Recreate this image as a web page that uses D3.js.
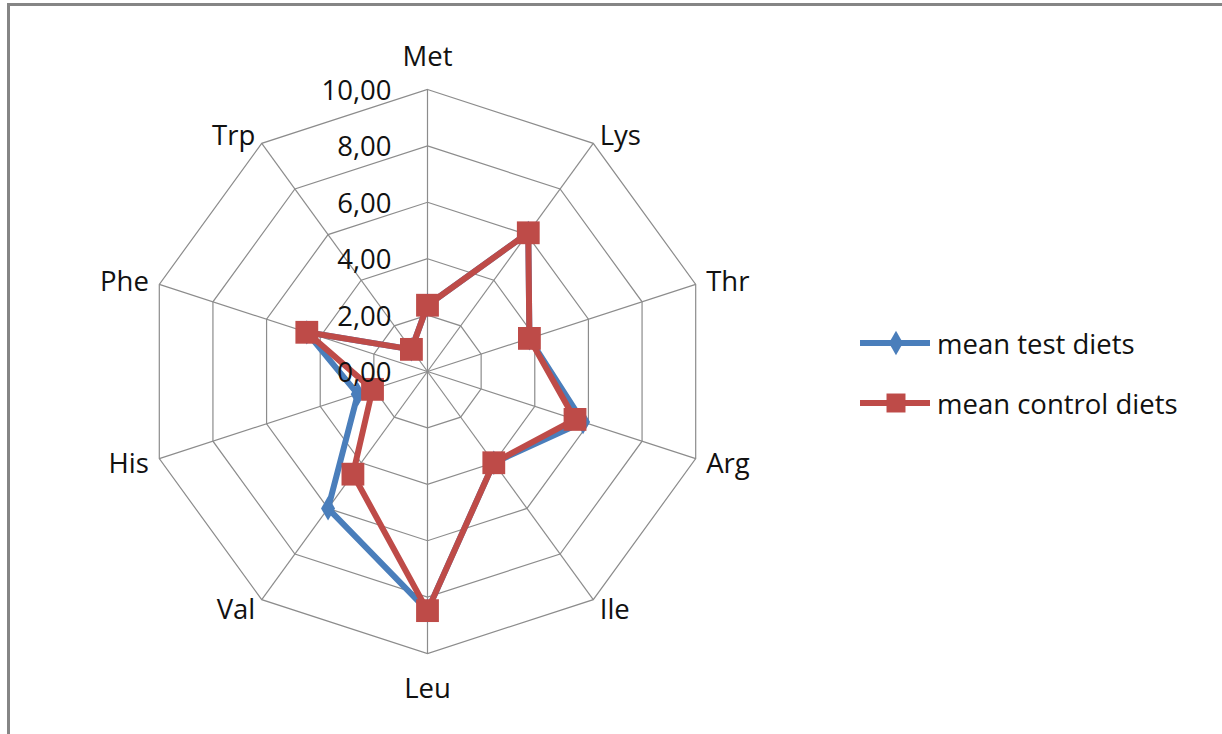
<!DOCTYPE html>
<html lang="en">
<head>
<meta charset="utf-8">
<title>Amino acids radar</title>
<script src="https://cdn.jsdelivr.net/npm/d3@7"></script>
<style>
  html, body { margin: 0; padding: 0; background: #fff; }
  text { font-family: "Open Sans", Lato, sans-serif; fill: #111; }
</style>
</head>
<body>
<svg id="chart" width="1222" height="734"></svg>
<script>
// amino acids round the radar, clockwise from the top
var aminoAcids = ["Met", "Lys", "Thr", "Arg", "Ile", "Leu", "Val", "His", "Phe", "Trp"];
var testDiets    = [2.35, 6.08, 3.8, 5.8, 4.0, 8.48, 6.0, 2.6, 4.5, 0.97];
var controlDiets = [2.35, 6.08, 3.8, 5.5, 4.0, 8.48, 4.5, 2.05, 4.5, 0.97];
var ticks = [0, 2, 4, 6, 8, 10];
var tickLabels = ["0,00", "2,00", "4,00", "6,00", "8,00", "10,00"];
var seriesNames = ["mean test diets", "mean control diets"];

var svg = d3.select("#chart"),
    cx = 427.5, cy = 371.5, R = 282,
    fs = 27.5;

// frame (thick top/left edge like the source)
svg.append("rect").attr("width", 1222).attr("height", 734).attr("fill", "#fff");
svg.append("line").attr("x1", 7).attr("x2", 1222).attr("y1", 4.5).attr("y2", 4.5)
    .attr("stroke", "#858585").attr("stroke-width", 3);
svg.append("line").attr("x1", 8.5).attr("x2", 8.5).attr("y1", 3).attr("y2", 734)
    .attr("stroke", "#858585").attr("stroke-width", 3);

var r = d3.scaleLinear().domain([0, 10]).range([0, R]);
var angle = d3.scalePoint().domain(aminoAcids).range([0, 2 * Math.PI * (aminoAcids.length - 1) / aminoAcids.length]);

function pt(name, v) {
  var a = angle(name);
  return [cx + r(v) * Math.sin(a), cy - r(v) * Math.cos(a)];
}

var g = svg.append("g");

// rings
ticks.filter(function(t) { return t > 0; }).forEach(function(t) {
  g.append("path")
    .attr("d", d3.line()(aminoAcids.map(function(n) { return pt(n, t); })) + "Z")
    .attr("fill", "none").attr("stroke", "#8c8c8c").attr("stroke-width", 1.2);
});

// spokes
g.selectAll("line.spoke").data(aminoAcids).enter().append("line")
  .attr("class", "spoke")
  .attr("x1", cx).attr("y1", cy)
  .attr("x2", function(d) { return pt(d, 10)[0]; })
  .attr("y2", function(d) { return pt(d, 10)[1]; })
  .attr("stroke", "#8c8c8c").attr("stroke-width", 1.2);

// category labels
g.selectAll("text.cat").data(aminoAcids).enter().append("text")
  .attr("class", "cat")
  .attr("font-size", fs)
  .each(function(d) {
    var a = angle(d), s = Math.sin(a), c = Math.cos(a);
    var off = Math.abs(s) < 0.1 ? 34 : 11;
    d3.select(this)
      .attr("x", cx + (R + off) * s)
      .attr("y", cy - (R + off) * c)
      .attr("dominant-baseline", "central")
      .attr("text-anchor", s > 0.1 ? "start" : (s < -0.1 ? "end" : "middle"));
  })
  .text(function(d) { return d; });

var colors = ["#4a7ebb", "#be4b48"];
var series = [testDiets, controlDiets];

series.forEach(function(vals, i) {
  var pts = aminoAcids.map(function(n, k) { return pt(n, vals[k]); });
  g.append("path")
    .attr("d", d3.line()(pts) + "Z")
    .attr("fill", "none").attr("stroke", colors[i])
    .attr("stroke-width", 6).attr("stroke-linejoin", "round");
  var sym = d3.symbol().type(i === 0 ? d3.symbolDiamond : d3.symbolSquare).size(i === 0 ? 170 : 520);
  g.selectAll("path.m" + i).data(pts).enter().append("path")
    .attr("class", "m" + i)
    .attr("transform", function(p) { return "translate(" + p[0] + "," + p[1] + ")"; })
    .attr("d", sym)
    .attr("fill", colors[i]);
});

// value labels on the Met axis
g.selectAll("text.tick").data(ticks).enter().append("text")
  .attr("class", "tick")
  .attr("font-size", fs)
  .attr("x", cx - 36)
  .attr("y", function(t) { return cy - r(t); })
  .attr("dominant-baseline", "central")
  .attr("text-anchor", "end")
  .text(function(t, i) { return tickLabels[i]; });

// legend
var leg = svg.append("g").attr("transform", "translate(860,343)");
seriesNames.forEach(function(name, i) {
  var row = leg.append("g").attr("transform", "translate(0," + (i * 60) + ")");
  row.append("line").attr("x1", 0).attr("x2", 70).attr("stroke", colors[i]).attr("stroke-width", 6);
  row.append("path").attr("transform", "translate(36,0)")
    .attr("d", d3.symbol().type(i === 0 ? d3.symbolDiamond : d3.symbolSquare).size(i === 0 ? 170 : 360)())
    .attr("fill", colors[i]);
  row.append("text").attr("x", 77).attr("dominant-baseline", "central")
    .attr("font-size", fs).text(name);
});
</script>
</body>
</html>
